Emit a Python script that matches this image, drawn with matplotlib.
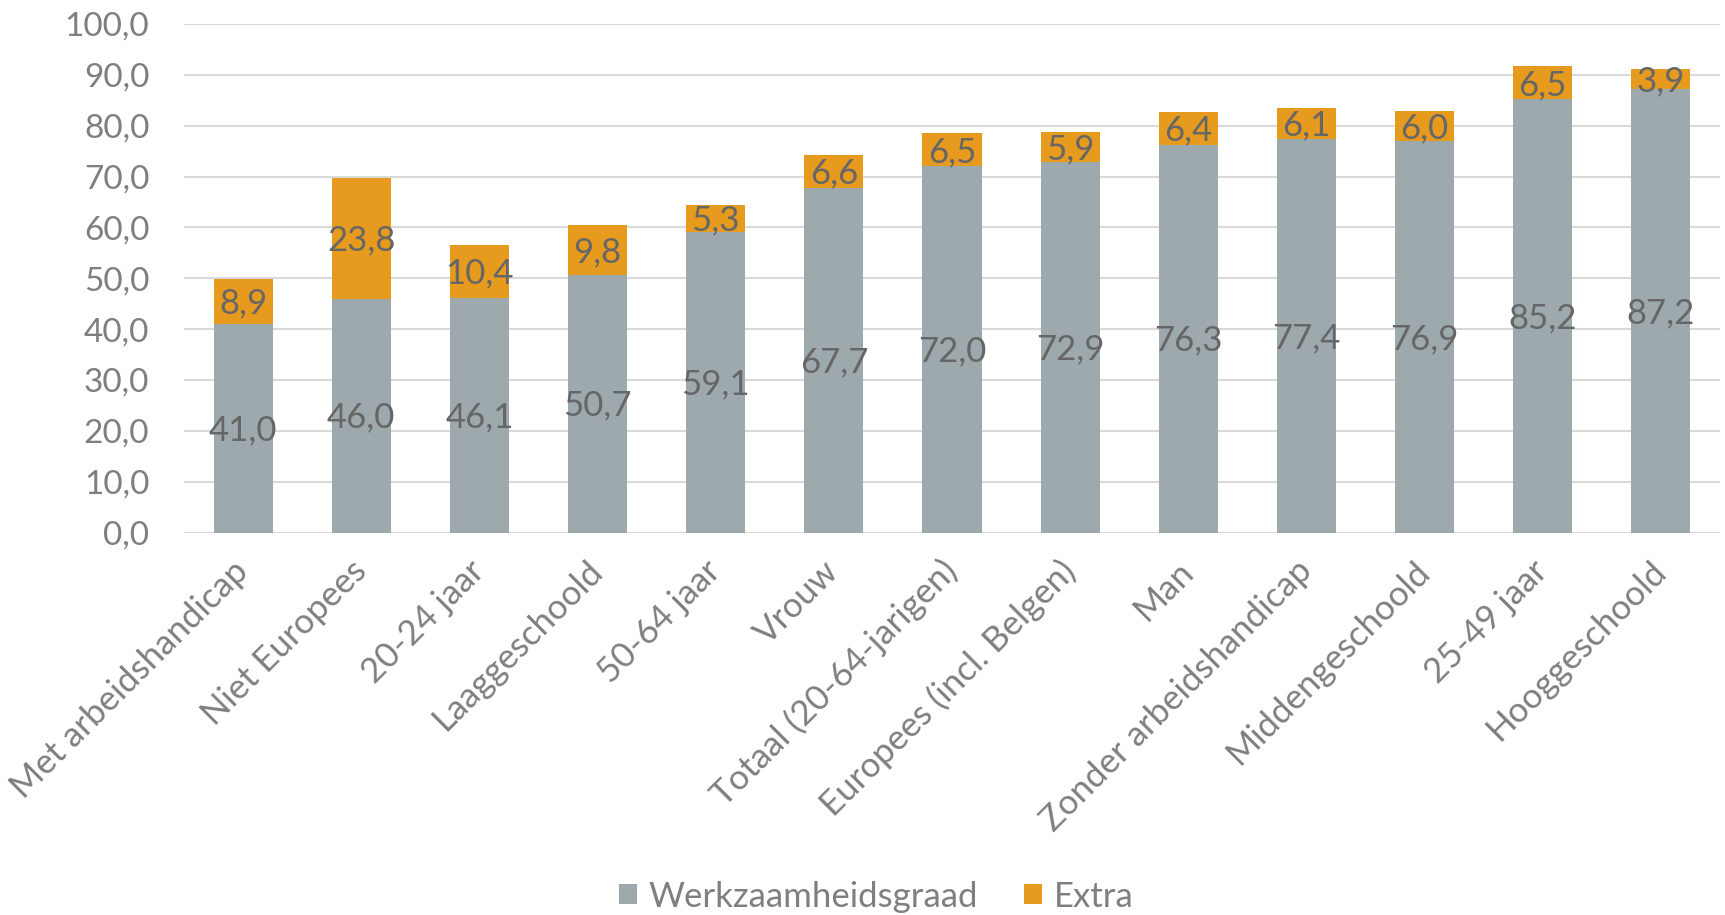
import matplotlib
matplotlib.use("Agg")
import matplotlib.pyplot as plt
from matplotlib.patches import Patch
import numpy as np

categories = ["Met arbeidshandicap", "Niet Europees", "20-24 jaar", "Laaggeschoold",
              "50-64 jaar", "Vrouw", "Totaal (20-64-jarigen)", "Europees (incl. Belgen)",
              "Man", "Zonder arbeidshandicap", "Middengeschoold", "25-49 jaar", "Hooggeschoold"]
werkzaamheidsgraad = [41.0, 46.0, 46.1, 50.7, 59.1, 67.7, 72.0, 72.9, 76.3, 77.4, 76.9, 85.2, 87.2]
extra = [8.9, 23.8, 10.4, 9.8, 5.3, 6.6, 6.5, 5.9, 6.4, 6.1, 6.0, 6.5, 3.9]
series_names = ["Werkzaamheidsgraad", "Extra"]
yticks = [0, 10, 20, 30, 40, 50, 60, 70, 80, 90, 100]

GREY = "#9DA9AD"
ORANGE = "#E69B1E"
TICK_COLOR = "#7F7F7F"
LABEL_COLOR = "#666666"
FONT = "Lato"

plt.rcParams["font.family"] = [FONT, "DejaVu Sans"]

fig = plt.figure(figsize=(17.25, 9.15), dpi=100)
ax = fig.add_axes([0.1067, 0.418, 0.8904, 0.5558])

x = np.arange(len(categories))
g = np.array(werkzaamheidsgraad)
e = np.array(extra)
ax.bar(x, g, width=0.5, color=GREY, zorder=2)
ax.bar(x, e, width=0.5, bottom=g, color=ORANGE, zorder=2)

def fmt(v):
    return f"{v:.1f}".replace(".", ",")

def put_label(xi, center, v):
    ax.annotate(fmt(v), xy=(xi, center), xytext=(0, -1.5),
                textcoords="offset points", ha="center", va="center",
                fontsize=25, color=LABEL_COLOR, zorder=3)

for xi, gv, ev in zip(x, g, e):
    put_label(xi, gv / 2, gv)
    put_label(xi, gv + ev / 2, ev)

ax.set_xlim(-0.5, len(categories) - 0.5)
ax.set_ylim(0, 100)
ax.set_yticks(yticks)
ax.set_yticklabels([fmt(t) for t in yticks], fontsize=24, color=TICK_COLOR)
ax.tick_params(axis="y", length=0, pad=25)
ax.tick_params(axis="x", length=0, pad=24)
ax.set_xticks(x)
ax.set_xticklabels(categories, rotation=45, ha="right", va="center",
                   rotation_mode="anchor", fontsize=25, color=TICK_COLOR)
for s in ax.spines.values():
    s.set_visible(False)
ax.grid(axis="y", color="#D9D9D9", linewidth=1.5, zorder=0)
ax.set_axisbelow(True)

handles = [Patch(facecolor=GREY), Patch(facecolor=ORANGE)]
fig.legend(handles, series_names, loc="center", bbox_to_anchor=(0.508, 0.0202),
           ncol=2, frameon=False, fontsize=25, labelcolor=TICK_COLOR,
           handlelength=0.52, handleheight=0.52, handletextpad=0.32,
           columnspacing=1.33, borderpad=0, borderaxespad=0)

fig.savefig("out.png", dpi=100)
